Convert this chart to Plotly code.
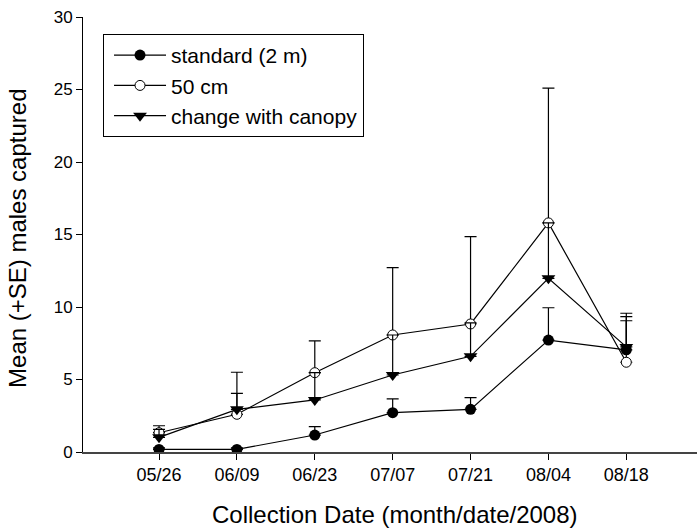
import plotly.graph_objects as go

# Collection dates (2008) and tick labels
dates = ["2008-05-26", "2008-06-09", "2008-06-23", "2008-07-07",
         "2008-07-21", "2008-08-04", "2008-08-18"]
tick_labels = ["05/26", "06/09", "06/23", "07/07", "07/21", "08/04", "08/18"]

# Mean males captured per trap type, with +SE
standard = [0.18, 0.18, 1.17, 2.71, 2.94, 7.72, 7.05]
standard_se = [0.10, 0.10, 0.58, 0.95, 0.81, 2.23, 2.00]

fifty_cm = [1.33, 2.60, 5.47, 8.07, 8.83, 15.80, 6.19]
fifty_cm_se = [0.48, 2.90, 2.19, 4.64, 6.02, 9.30, 3.38]

canopy = [1.01, 2.94, 3.59, 5.31, 6.60, 11.98, 7.25]
canopy_se = [0.55, 1.11, 1.88, 2.76, 2.30, 3.82, 2.09]

FONT = "Liberation Sans, Arial, sans-serif"


def err(se):
    return dict(type="data", symmetric=False, array=se,
                arrayminus=[0] * len(se), color="black",
                thickness=1.2, width=6)


fig = go.Figure()
fig.add_trace(go.Scatter(
    x=dates, y=standard, name="standard (2 m)", mode="lines+markers",
    line=dict(color="black", width=1.2),
    marker=dict(symbol="circle", size=11, color="black"),
    error_y=err(standard_se)))
fig.add_trace(go.Scatter(
    x=dates, y=fifty_cm, name="50 cm", mode="lines+markers",
    line=dict(color="black", width=1.2),
    marker=dict(symbol="circle", size=10, color="white",
                line=dict(color="black", width=1)),
    error_y=err(fifty_cm_se)))
fig.add_trace(go.Scatter(
    x=dates, y=canopy, name="change with canopy", mode="lines+markers",
    line=dict(color="black", width=1.2),
    marker=dict(symbol="triangle-down", size=12, color="black"),
    error_y=err(canopy_se)))

fig.update_layout(
    width=697, height=529,
    margin=dict(l=83, r=0, t=17, b=77),
    paper_bgcolor="white", plot_bgcolor="white",
    font=dict(family=FONT, color="black", size=18),
    showlegend=True,
    legend=dict(x=0.0326, y=0.961, xanchor="left", yanchor="top",
                bordercolor="black", borderwidth=1,
                font=dict(size=21, family=FONT),
                indentation=5, itemwidth=52,
                bgcolor="white", tracegroupgap=0),
    xaxis=dict(
        type="date",
        range=["2008-05-12 08:00", "2008-08-30 17:00"],
        tickvals=dates, ticktext=tick_labels,
        ticks="outside", ticklen=6, tickwidth=1, tickcolor="black",
        showline=True, linecolor="#444", linewidth=1.5,
        showgrid=False, zeroline=False,
        tickfont=dict(size=18),
    ),
    yaxis=dict(
        range=[0, 30], dtick=5,
        ticks="outside", ticklen=6, tickwidth=1, tickcolor="black",
        showline=True, linecolor="black", linewidth=1,
        showgrid=False, zeroline=False,
        tickfont=dict(size=17),
    ),
    annotations=[
        dict(text="Collection Date (month/date/2008)",
             xref="paper", yref="paper", x=0.508, y=-0.1448,
             xanchor="center", yanchor="middle", showarrow=False,
             font=dict(size=24, family=FONT)),
        dict(text="Mean (+SE) males captured",
             xref="paper", yref="paper", x=-0.1059, y=0.492,
             xanchor="center", yanchor="middle", showarrow=False,
             textangle=-90, font=dict(size=24, family=FONT)),
    ],
)

fig.write_html("out.html")
